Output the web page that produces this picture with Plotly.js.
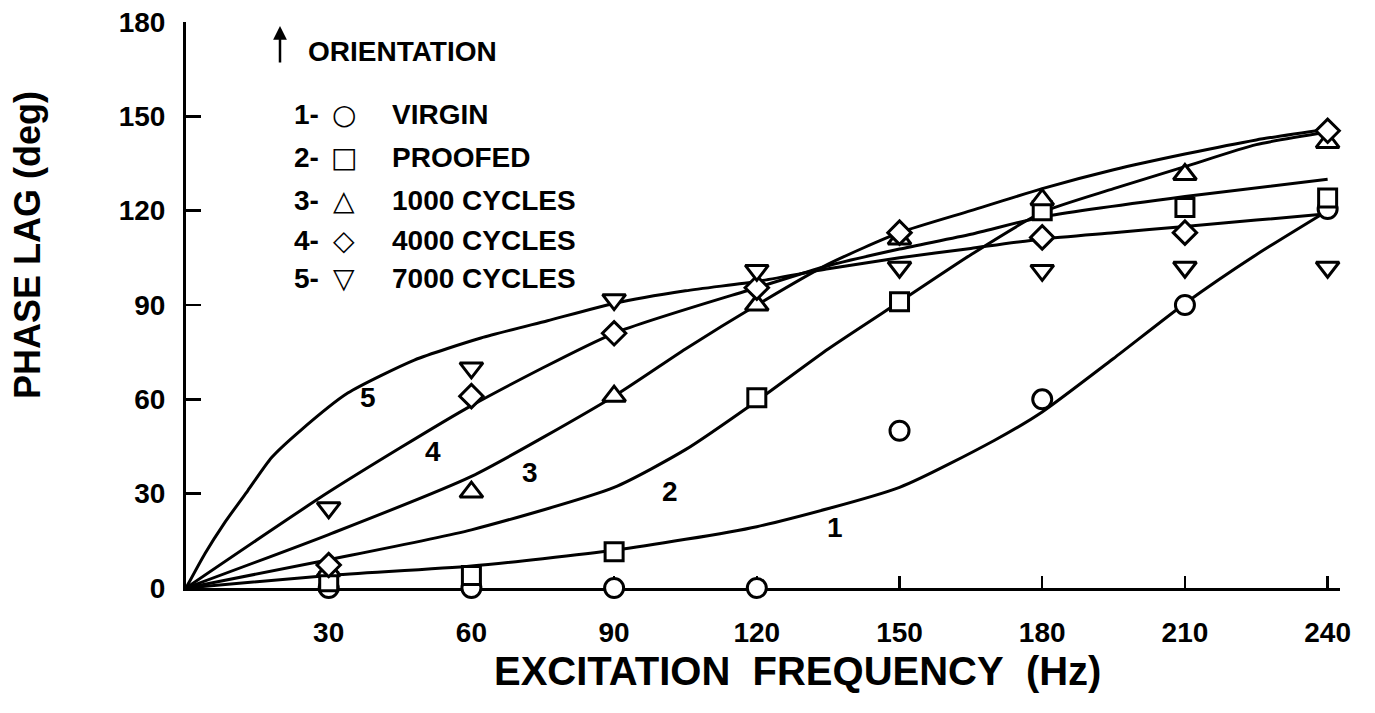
<!DOCTYPE html>
<html>
<head>
<meta charset="utf-8">
<script src="https://cdn.plot.ly/plotly-3.0.1.min.js"></script>
<style>html,body{margin:0;padding:0;background:#fff;}#chart{width:1375px;height:713px;}</style>
</head>
<body>
<div id="chart"></div>
<script>
// ---- measured points (phase lag, deg) at excitation frequencies (Hz)
const freq = [30, 60, 90, 120, 150, 180, 210, 240];
const virgin = [0, 0, 0, 0, 50, 60, 90, 120.5];
const proofed = [2, 4, 11.5, 60.5, 91, 120, 121, 124];
const cycles1000 = [5.5, 30.5, 61, 90, 111, 123.5, 131.5, 141.7];
const cycles4000 = [7.3, 61, 81, 95.5, 113, 111.5, 113, 145.4];
const cycles7000 = [25.5, 70, 91.7, 101, 102, 101, 102, 102];

// ---- hand-drawn fitted curves
const fit1Freq = [0, 30, 60, 90, 120, 150, 170, 180, 195, 210, 225, 240];
const fit1Lag  = [0, 4, 7, 12, 19.5, 32, 47, 56, 73, 90.5, 106, 120];
const fit2Freq = [0, 30, 60, 90, 105, 120, 135, 150, 165, 180, 195, 210, 225, 240];
const fit2Lag  = [0, 9, 18.5, 32, 44, 59.5, 76, 91, 106, 119.5, 127, 134, 141, 145];
const fit3Freq = [0, 30, 60, 90, 105, 120, 135, 150, 165, 180, 195, 210, 225, 240];
const fit3Lag  = [0, 17, 35.5, 61, 76, 90, 103, 113, 120, 127, 133, 138, 142.5, 146];
const fit4Freq = [0, 30, 60, 90, 120, 135, 150, 165, 180, 210, 240];
const fit4Lag  = [0, 30.5, 58, 81, 95.5, 102.5, 107.8, 112.5, 118, 124.5, 130];
const fit5Freq = [0, 4, 8, 13, 18, 24, 34, 48, 62, 76, 90, 105, 120, 135, 150, 165, 180, 195, 210, 225, 240];
const fit5Lag  = [0, 11, 20.5, 31, 41.5, 50, 62, 72.5, 79.5, 85, 90.5, 94.5, 97.5, 101.5, 105, 108, 111, 113, 115, 117, 119];

const curveLabels = ['1', '2', '3', '4', '5'];
const seriesNames = ['VIRGIN', 'PROOFED', '1000 CYCLES', '4000 CYCLES', '7000 CYCLES'];
const legendGlyphs = ['\u25CB', '\u25A1', '\u25B3', '\u25C7', '\u25BD'];
const xTicks = [30, 60, 90, 120, 150, 180, 210, 240];
const yTicks = [0, 30, 60, 90, 120, 150, 180];
const xTitle = 'EXCITATION\u00a0\u00a0FREQUENCY\u00a0\u00a0(Hz)';
const yTitle = 'PHASE LAG (deg)';
const legendHeader = 'ORIENTATION';

const FONT = 'Liberation Sans, Arial, sans-serif';
const INK = '#000';

const fits = [[fit1Freq, fit1Lag], [fit2Freq, fit2Lag], [fit3Freq, fit3Lag], [fit4Freq, fit4Lag], [fit5Freq, fit5Lag]];
const pts = [virgin, proofed, cycles1000, cycles4000, cycles7000];
const symbols = ['circle', 'square', 'triangle-up', 'diamond', 'triangle-down'];
const sizes = [19, 18, 20, 18, 20];

const traces = [];
fits.forEach((f) => {
  traces.push({
    x: f[0], y: f[1], type: 'scatter', mode: 'lines',
    line: {color: INK, width: 3, shape: 'spline', smoothing: 0.6},
    hoverinfo: 'skip', showlegend: false, cliponaxis: false
  });
});
pts.forEach((p, i) => {
  traces.push({
    x: freq, y: p, type: 'scatter', mode: 'markers', name: seriesNames[i],
    marker: {symbol: symbols[i], size: sizes[i], color: '#fff', line: {color: INK, width: 3}},
    showlegend: false, cliponaxis: false
  });
});

const L = 186, R = 1340, T = 22, B = 588;
const px = x => (x - L) / (R - L);
const py = y => (B - y) / (B - T);
const bold = s => '<b>' + s + '</b>';

const ann = [];
// axis titles
ann.push({xref: 'paper', yref: 'paper', x: px(797), y: py(671), text: bold(xTitle), showarrow: false,
  xanchor: 'center', yanchor: 'middle', font: {family: FONT, size: 40, color: INK}});
ann.push({xref: 'paper', yref: 'paper', x: px(27), y: py(245), text: bold(yTitle), showarrow: false, textangle: -90,
  xanchor: 'center', yanchor: 'middle', font: {family: FONT, size: 36, color: INK}});
// orientation arrow + header
ann.push({xref: 'paper', yref: 'paper', x: px(280), y: py(26), ax: 0, ay: 38, text: '', showarrow: true,
  arrowhead: 2, arrowsize: 1.1, arrowwidth: 2.5, arrowcolor: INK, standoff: 0, startstandoff: 0});
ann.push({xref: 'paper', yref: 'paper', x: px(306), y: py(51), text: bold(legendHeader), showarrow: false,
  xanchor: 'left', yanchor: 'middle', font: {family: FONT, size: 28, color: INK}});
// legend rows
const rowY = [115, 157, 200, 241, 278];
seriesNames.forEach((n, i) => {
  ann.push({xref: 'paper', yref: 'paper', x: px(292), y: py(rowY[i]), text: bold(curveLabels[i] + '-'), showarrow: false,
    xanchor: 'left', yanchor: 'middle', font: {family: FONT, size: 28, color: INK}});
  ann.push({xref: 'paper', yref: 'paper', x: px(344), y: py(rowY[i]), text: bold(legendGlyphs[i]), showarrow: false,
    xanchor: 'center', yanchor: 'middle', font: {family: 'DejaVu Sans', size: 28, color: INK}});
  ann.push({xref: 'paper', yref: 'paper', x: px(390), y: py(rowY[i]), text: bold(n), showarrow: false,
    xanchor: 'left', yanchor: 'middle', font: {family: FONT, size: 28, color: INK}});
});
// curve number labels (data coordinates)
const labelAt = [[136.5, 19.4], [101.8, 30.6], [72.3, 36.6], [51.9, 43.3], [38.3, 60.5]];
curveLabels.forEach((c, i) => {
  ann.push({x: labelAt[i][0], y: labelAt[i][1], text: bold(c), showarrow: false,
    xanchor: 'center', yanchor: 'middle', font: {family: FONT, size: 28, color: INK}});
});

const layout = {
  width: 1375, height: 713,
  margin: {l: L, r: 1375 - R, t: T, b: 713 - B, pad: 0},
  paper_bgcolor: '#fff', plot_bgcolor: '#fff',
  showlegend: false,
  font: {family: FONT, color: INK},
  xaxis: {
    range: [0, 242.6], tickvals: xTicks, ticktext: xTicks.map(v => bold(String(v))),
    ticks: 'inside', ticklen: 12, tickwidth: 2.5, tickcolor: INK,
    showline: true, linewidth: 3, linecolor: INK, showgrid: false, zeroline: false,
    tickfont: {family: FONT, size: 28, color: INK}, ticklabelstandoff: 17, layer: 'below traces', fixedrange: true
  },
  yaxis: {
    range: [0, 180], tickvals: yTicks, ticktext: yTicks.map(v => bold(String(v))),
    ticks: 'inside', ticklen: 15, tickwidth: 2.5, tickcolor: INK,
    showline: true, linewidth: 3, linecolor: INK, showgrid: false, zeroline: false,
    tickfont: {family: FONT, size: 28, color: INK}, ticklabelstandoff: 12, layer: 'below traces', fixedrange: true
  },
  annotations: ann
};

Plotly.newPlot('chart', traces, layout, {staticPlot: true, displayModeBar: false});
</script>
</body>
</html>
